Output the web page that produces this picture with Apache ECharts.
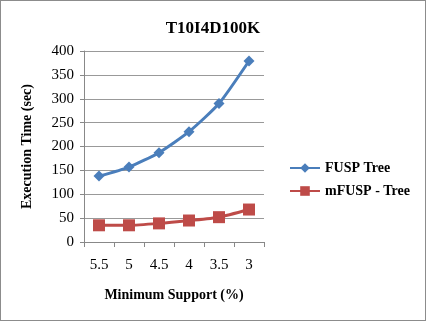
<!DOCTYPE html>
<html><head><meta charset="utf-8">
<script src="https://cdn.jsdelivr.net/npm/echarts@6/dist/echarts.min.js"></script>
<style>html,body{margin:0;padding:0;background:#fff}#c{width:426px;height:321px;box-sizing:border-box;border:1px solid #8c8c8c}</style>
</head><body><div id="c"></div>
<script>
const categories = ['5.5','5','4.5','4','3.5','3'];
const fuspTree = [138, 157, 187, 231, 290, 379];
const mfuspTree = [35, 35, 39, 45, 52, 68];
const seriesNames = ['FUSP Tree', 'mFUSP - Tree'];

const chart = echarts.init(document.getElementById('c'));
const serif = '"Liberation Serif","Times New Roman",serif';
chart.setOption({
  animation: false,
  title: {text: 'T10I4D100K', left: 'center', top: 14, textStyle: {fontFamily: serif, fontWeight: 'bold', fontSize: 17, color: '#000'}},
  legend: {
    orient: 'vertical', left: 283, top: 155, itemGap: 9, itemWidth: 30, itemHeight: 12,
    textStyle: {fontFamily: serif, fontWeight: 'bold', fontSize: 14, color: '#000'},
    data: seriesNames
  },
  grid: {left: 83, right: 161, top: 50, bottom: 78},
  xAxis: {
    type: 'category', data: categories, boundaryGap: true,
    name: 'Minimum Support (%)', nameLocation: 'middle', nameGap: 46,
    nameTextStyle: {fontFamily: serif, fontWeight: 'bold', fontSize: 14, color: '#000'},
    axisLine: {lineStyle: {color: '#888'}},
    axisTick: {show: true, length: 5, lineStyle: {color: '#888'}},
    axisLabel: {fontFamily: serif, fontSize: 15, color: '#000', margin: 16}
  },
  yAxis: {
    type: 'value', min: 0, max: 400, interval: 50,
    name: 'Execution Time (sec)', nameLocation: 'middle', nameGap: 50,
    nameTextStyle: {fontFamily: serif, fontWeight: 'bold', fontSize: 14, color: '#000'},
    axisLine: {show: true, lineStyle: {color: '#888'}},
    axisTick: {show: true, length: 4, lineStyle: {color: '#888'}},
    axisLabel: {fontFamily: serif, fontSize: 15, color: '#000', margin: 10},
    splitLine: {lineStyle: {color: '#999'}}
  },
  series: [
    {name: seriesNames[0], type: 'line', data: fuspTree, smooth: 0.2, symbol: 'diamond', symbolSize: 11,
     itemStyle: {color: '#4a7ebb'}, lineStyle: {width: 3, color: '#4a7ebb'}},
    {name: seriesNames[1], type: 'line', data: mfuspTree, smooth: 0.2, symbol: 'rect', symbolSize: 12,
     itemStyle: {color: '#be4b48'}, lineStyle: {width: 3, color: '#be4b48'}}
  ]
});
</script></body></html>
